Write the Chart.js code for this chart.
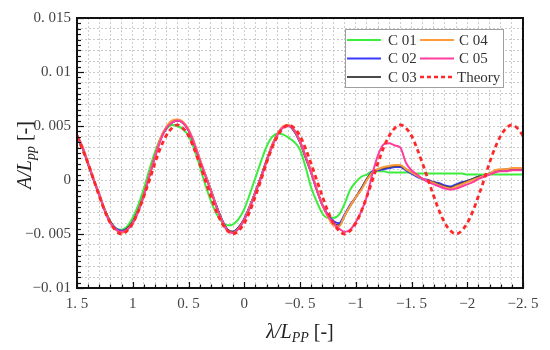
<!DOCTYPE html>
<html>
<head>
<meta charset="utf-8">
<script src="https://cdn.jsdelivr.net/npm/chart.js@4.4.1/dist/chart.umd.min.js"></script>
<style>
html,body{margin:0;padding:0;background:#fff;}
#wrap{width:550px;height:350px;position:relative;}
</style>
</head>
<body>
<div id="wrap"><canvas id="c" width="550" height="350"></canvas></div>
<script>
// wavelength ratio lambda/Lpp (x values)
const lambda = [1.50,1.45,1.40,1.35,1.30,1.25,1.20,1.15,1.10,1.05,1.00,0.95,0.90,0.85,0.80,0.75,0.70,0.65,0.60,0.55,
0.50,0.45,0.40,0.35,0.30,0.25,0.20,0.15,0.10,0.05,0.00,-0.05,-0.10,-0.15,-0.20,-0.25,-0.30,-0.35,-0.40,-0.45,
-0.50,-0.55,-0.60,-0.65,-0.70,-0.75,-0.80,-0.85,-0.90,-0.95,-1.00,-1.05,-1.10,-1.15,-1.20,-1.25,-1.30,-1.35,-1.40,-1.45,
-1.50,-1.55,-1.60,-1.65,-1.70,-1.75,-1.80,-1.85,-1.90,-1.95,-2.00,-2.05,-2.10,-2.15,-2.20,-2.25,-2.30,-2.35,-2.40,-2.45,-2.50];

const c01 = [0.0040,0.0029,0.0014,0.0000,-0.0014,-0.0028,-0.0039,-0.0045,-0.0046,-0.0043,-0.0035,-0.0023,-0.0008,0.0010,0.0026,0.0039,0.0047,0.0051,0.0050,0.0047,
0.0041,0.0029,0.0013,-0.0004,-0.0019,-0.0031,-0.0039,-0.0042,-0.0041,-0.0036,-0.0027,-0.0013,0.0002,0.0017,0.0031,0.0040,0.0043,0.0042,0.0039,0.0035,
0.0028,0.0012,-0.0007,-0.0020,-0.0031,-0.0035,-0.0035,-0.0032,-0.0022,-0.0009,-0.0002,0.0003,0.0005,0.0008,0.0008,0.0008,0.0007,0.0007,0.0007,0.0007,
0.0007,0.0006,0.0006,0.0006,0.0006,0.0006,0.0006,0.0006,0.0006,0.0006,0.0005,0.0005,0.0005,0.0005,0.0005,0.0005,0.0005,0.0005,0.0005,0.0005,0.0005];

const c02 = [0.0041,0.0030,0.0015,0.0000,-0.0013,-0.0028,-0.0039,-0.0045,-0.0047,-0.0045,-0.0039,-0.0028,-0.0014,0.0005,0.0022,0.0038,0.0048,0.0053,0.0055,0.0053,
0.0046,0.0034,0.0019,0.0005,-0.0009,-0.0024,-0.0037,-0.0046,-0.0048,-0.0044,-0.0036,-0.0024,-0.0011,0.0003,0.0018,0.0032,0.0043,0.0049,0.0050,0.0045,
0.0035,0.0021,0.0007,-0.0009,-0.0023,-0.0032,-0.0038,-0.0040,-0.0032,-0.0023,-0.0016,-0.0008,0.0001,0.0008,0.0009,0.0010,0.0011,0.0012,0.0012,0.0009,
0.0006,0.0003,0.0001,0.0000,-0.0002,-0.0003,-0.0005,-0.0006,-0.0004,-0.0002,-0.0001,0.0001,0.0003,0.0004,0.0006,0.0008,0.0009,0.0009,0.0010,0.0010,0.0010];

const c03 = [0.0041,0.0030,0.0015,0.0000,-0.0014,-0.0028,-0.0039,-0.0046,-0.0048,-0.0045,-0.0039,-0.0028,-0.0014,0.0004,0.0022,0.0038,0.0048,0.0053,0.0055,0.0053,
0.0046,0.0034,0.0019,0.0005,-0.0009,-0.0024,-0.0037,-0.0046,-0.0048,-0.0044,-0.0036,-0.0025,-0.0011,0.0003,0.0018,0.0032,0.0043,0.0049,0.0050,0.0045,
0.0035,0.0021,0.0007,-0.0009,-0.0023,-0.0033,-0.0040,-0.0042,-0.0033,-0.0024,-0.0016,-0.0008,0.0001,0.0007,0.0010,0.0011,0.0012,0.0013,0.0013,0.0010,
0.0007,0.0004,0.0001,-0.0001,-0.0002,-0.0004,-0.0006,-0.0007,-0.0005,-0.0003,-0.0001,0.0001,0.0003,0.0004,0.0006,0.0008,0.0009,0.0010,0.0010,0.0010,0.0011];

const c04 = [0.0042,0.0031,0.0016,0.0001,-0.0013,-0.0028,-0.0040,-0.0046,-0.0049,-0.0046,-0.0040,-0.0029,-0.0014,0.0005,0.0022,0.0039,0.0049,0.0055,0.0056,0.0054,
0.0047,0.0035,0.0020,0.0005,-0.0009,-0.0025,-0.0038,-0.0047,-0.0049,-0.0045,-0.0037,-0.0025,-0.0012,0.0002,0.0017,0.0032,0.0043,0.0050,0.0051,0.0046,
0.0036,0.0022,0.0008,-0.0008,-0.0023,-0.0034,-0.0042,-0.0043,-0.0033,-0.0024,-0.0016,-0.0009,0.0000,0.0007,0.0010,0.0012,0.0013,0.0014,0.0014,0.0010,
0.0007,0.0004,0.0001,-0.0001,-0.0003,-0.0005,-0.0007,-0.0008,-0.0006,-0.0004,-0.0002,0.0000,0.0002,0.0004,0.0006,0.0009,0.0010,0.0010,0.0011,0.0011,0.0011];

const c05 = [0.0042,0.0030,0.0015,0.0000,-0.0014,-0.0029,-0.0040,-0.0046,-0.0048,-0.0046,-0.0040,-0.0029,-0.0014,0.0004,0.0021,0.0037,0.0048,0.0053,0.0055,0.0053,
0.0046,0.0034,0.0019,0.0004,-0.0010,-0.0025,-0.0038,-0.0047,-0.0049,-0.0045,-0.0037,-0.0026,-0.0012,0.0002,0.0017,0.0031,0.0042,0.0049,0.0050,0.0046,
0.0036,0.0022,0.0007,-0.0009,-0.0023,-0.0033,-0.0040,-0.0045,-0.0048,-0.0046,-0.0039,-0.0029,-0.0015,0.0006,0.0023,0.0033,0.0034,0.0032,0.0030,0.0016,
0.0009,0.0005,0.0001,-0.0002,-0.0004,-0.0006,-0.0008,-0.0009,-0.0008,-0.0006,-0.0004,-0.0002,0.0001,0.0003,0.0005,0.0007,0.0008,0.0008,0.0009,0.0009,0.0009];

const theory = [0.0040,0.0028,0.0015,0.0000,-0.0015,-0.0029,-0.0040,-0.0047,-0.0050,-0.0047,-0.0040,-0.0029,-0.0015,0.0000,0.0016,0.0030,0.0041,0.0048,0.0051,0.0048,
0.0041,0.0029,0.0015,0.0000,-0.0015,-0.0029,-0.0040,-0.0047,-0.0050,-0.0047,-0.0040,-0.0029,-0.0015,0.0000,0.0016,0.0030,0.0041,0.0048,0.0051,0.0048,
0.0041,0.0029,0.0015,0.0000,-0.0015,-0.0029,-0.0040,-0.0047,-0.0050,-0.0047,-0.0040,-0.0029,-0.0015,0.0000,0.0016,0.0030,0.0041,0.0048,0.0051,0.0048,
0.0041,0.0029,0.0015,0.0000,-0.0015,-0.0029,-0.0040,-0.0047,-0.0050,-0.0047,-0.0040,-0.0029,-0.0015,0.0000,0.0016,0.0030,0.0041,0.0048,0.0051,0.0048,0.0041];

const seriesNames = ['C 01','C 02','C 03','C 04','C 05','Theory'];
const seriesColors = ['#3ded3d','#3a3aff','#4a4a4a','#ff9a3c','#ff3d9e','#ff2828'];

const xTickValues = [1.5,1,0.5,0,-0.5,-1,-1.5,-2,-2.5];
const xTickLabels = ['1. 5','1','0. 5','0','\u22120. 5','\u22121','\u22121. 5','\u22122','\u22122. 5'];
const yTickValues = [-0.01,-0.005,0,0.005,0.01,0.015];
const yTickLabels = ['\u22120. 01','\u22120. 005','0','0. 005','0. 01','0. 015'];

const FONT = "'Liberation Serif','DejaVu Serif',serif";

function pts(arr){ return lambda.map((x,i)=>({x:x, y:arr[i]})); }
function lookup(vals, labels, v){
  for(let i=0;i<vals.length;i++){ if(Math.abs(vals[i]-v)<1e-7) return labels[i]; }
  return '';
}

const allSeries = [c01,c02,c03,c04,c05,theory];
const orders = [5,4,3,2,1,0];
const datasets = allSeries.map((s,i)=>({
  label: seriesNames[i],
  data: pts(s),
  borderColor: seriesColors[i],
  backgroundColor: seriesColors[i],
  borderWidth: i===5 ? 2.8 : 2,
  borderDash: i===5 ? [4.5,3.5] : [],
  pointRadius: 0,
  cubicInterpolationMode: 'monotone',
  order: orders[i],
  fill: false
}));

const frameAndTicks = {
  id:'frameAndTicks',
  afterDraw(chart){
    const ctx = chart.ctx, a = chart.chartArea;
    const xs = chart.scales.x, ys = chart.scales.y;
    ctx.save();
    ctx.strokeStyle = '#111';
    ctx.lineWidth = 1.2;
    for(let k=-25;k<=15;k++){
      const v = k/10;
      const px = Math.round(xs.getPixelForValue(v))+0.5;
      const len = (k%5===0) ? 6 : 3.5;
      ctx.beginPath(); ctx.moveTo(px,a.bottom); ctx.lineTo(px,a.bottom-len); ctx.stroke();
    }
    for(let k=-20;k<=30;k++){
      const v = k*0.0005;
      const py = Math.round(ys.getPixelForValue(v))+0.5;
      const len = (k%10===0) ? 7 : 4;
      ctx.beginPath(); ctx.moveTo(a.left,py); ctx.lineTo(a.left+len,py); ctx.stroke();
    }
    ctx.lineWidth = 2;
    ctx.strokeStyle = '#111';
    ctx.strokeRect(a.left, a.top, a.right-a.left, a.bottom-a.top);
    ctx.restore();
  }
};

const legendBox = {
  id:'legendBox',
  afterDraw(chart){
    const ctx = chart.ctx;
    const x0 = 345, y0 = 29, w = 158, h = 58;
    ctx.save();
    ctx.fillStyle = '#fff';
    ctx.fillRect(x0,y0,w,h);
    ctx.strokeStyle = '#a0a0a0';
    ctx.lineWidth = 1;
    ctx.strokeRect(x0+0.5,y0+0.5,w,h);
    const rows = [40,58.5,77];
    const cols = [{lx:347, tx:388},{lx:420, tx:459}];
    const order = [[0,3],[1,4],[2,5]];
    ctx.font = "15px " + FONT;
    ctx.textBaseline = 'middle';
    for(let r=0;r<3;r++){
      for(let c=0;c<2;c++){
        const idx = order[r][c];
        const col = cols[c];
        ctx.strokeStyle = seriesColors[idx];
        ctx.lineWidth = idx===5 ? 2.4 : 2;
        ctx.setLineDash(idx===5 ? [4,3] : []);
        ctx.beginPath(); ctx.moveTo(col.lx, rows[r]); ctx.lineTo(col.lx+34, rows[r]); ctx.stroke();
        ctx.setLineDash([]);
        ctx.fillStyle = '#333';
        ctx.fillText(seriesNames[idx], idx===5 ? col.tx-2 : col.tx, rows[r]+1);
      }
    }
    ctx.restore();
  }
};

function drawSubTitle(ctx, main, sub, tail, cx, cy){
  const big = "italic 20px " + FONT, small = "italic 14px " + FONT, norm = "20px " + FONT;
  ctx.font = big; const w1 = ctx.measureText(main).width;
  ctx.font = small; const w2 = ctx.measureText(sub).width;
  ctx.font = norm; const w3 = ctx.measureText(tail).width;
  let x = cx - (w1+w2+w3)/2;
  ctx.textBaseline = 'alphabetic';
  ctx.fillStyle = '#222';
  ctx.font = big; ctx.fillText(main, x, cy+7); x += w1;
  ctx.font = small; ctx.fillText(sub, x, cy+11); x += w2;
  ctx.font = norm; ctx.fillText(tail, x, cy+7);
}

const axisTitles = {
  id:'axisTitles',
  afterDraw(chart){
    const ctx = chart.ctx, a = chart.chartArea;
    ctx.save();
    drawSubTitle(ctx, '\u03bb/L', 'PP', ' [-]', (a.left+a.right)/2, 331);
    ctx.translate(24, (a.top+a.bottom)/2 + 2);
    ctx.rotate(-Math.PI/2);
    drawSubTitle(ctx, 'A/L', 'pp', ' [-]', 0, 0);
    ctx.restore();
  }
};

new Chart(document.getElementById('c'), {
  type:'line',
  data:{ datasets },
  options:{
    responsive:false,
    animation:false,
    layout:{ padding:{ top:18, right:27, left:0, bottom:0 } },
    plugins:{ legend:{ display:false }, tooltip:{ enabled:false } },
    scales:{
      x:{
        type:'linear', reverse:true, min:-2.5, max:1.5,
        afterFit(s){ s.height = 62; },
        afterBuildTicks(s){ s.ticks = []; for(let k=-25;k<=15;k++){ s.ticks.push({value:k/10}); } },
        ticks:{ autoSkip:false, maxRotation:0, padding:7, color:'#444',
          font:{ family:FONT, size:15 },
          callback:(v)=>lookup(xTickValues, xTickLabels, v) },
        grid:{ drawTicks:false, color:'#cccccc', lineWidth:1 },
        border:{ display:false, dash:[2,2] }
      },
      y:{
        type:'linear', min:-0.01, max:0.015,
        afterFit(s){ s.width = 77; },
        afterBuildTicks(s){ s.ticks = []; for(let k=-10;k<=15;k++){ s.ticks.push({value:k/1000}); } },
        ticks:{ autoSkip:false, padding:6, color:'#444',
          font:{ family:FONT, size:15 },
          callback:(v)=>lookup(yTickValues, yTickLabels, v) },
        grid:{ drawTicks:false, color:'#cccccc', lineWidth:1 },
        border:{ display:false, dash:[2,2] }
      }
    }
  },
  plugins:[frameAndTicks, legendBox, axisTitles]
});
</script>
</body>
</html>
